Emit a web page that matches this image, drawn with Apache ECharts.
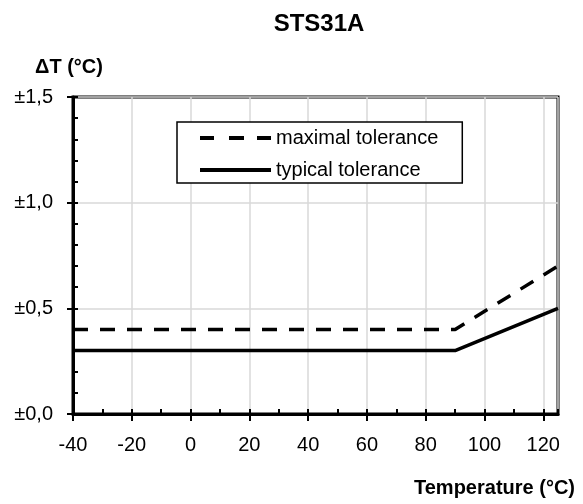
<!DOCTYPE html>
<html>
<head>
<meta charset="utf-8">
<script src="https://cdn.jsdelivr.net/npm/echarts@6/dist/echarts.min.js"></script>
<style>html,body{margin:0;padding:0;background:#fff;}#chart{width:583px;height:504px;}</style>
</head>
<body>
<div id="chart"></div>
<script>
const chartTitle = 'STS31A';
const yName = 'ΔT (°C)';
const xName = 'Temperature (°C)';
const temps = [-40, 90, 125];
const maximalTolerance = [0.4, 0.4, 0.7];
const typicalTolerance = [0.3, 0.3, 0.5];
const seriesNames = ['maximal tolerance', 'typical tolerance'];

const FONT = "'Liberation Sans', Arial, sans-serif";
const chart = echarts.init(document.getElementById('chart'), null, {renderer: 'canvas'});
const pairs = (xs, ys) => xs.map((x, i) => [x, ys[i]]);
const tickLine = {color: '#000', width: 2};
const dashedIcon = 'path://M0,0h14v4h-14zM29,0h15v4h-15zM57,0h14v4h-14z';
const solidIcon = 'path://M0,0h71v4h-71z';

chart.setOption({
  animation: false,
  backgroundColor: '#fff',
  textStyle: {fontFamily: FONT},
  title: [
    {text: chartTitle, left: 319, top: 12, textAlign: 'center', padding: 0,
     textStyle: {fontFamily: FONT, fontSize: 24, fontWeight: 'bold', color: '#000'}},
    {text: yName, left: 69, top: 57, textAlign: 'center', padding: 0,
     textStyle: {fontFamily: FONT, fontSize: 20, fontWeight: 'bold', color: '#000'}},
    {text: xName, right: 8, top: 478, padding: 0,
     textStyle: {fontFamily: FONT, fontSize: 20, fontWeight: 'bold', color: '#000'}}
  ],
  legend: {
    orient: 'vertical', left: 177, top: 122,
    itemWidth: 71, itemHeight: 4, itemGap: 8,
    padding: [4, 24, 1, 23],
    borderColor: '#000', borderWidth: 1.5, backgroundColor: '#fff',
    textStyle: {fontFamily: FONT, fontSize: 20, lineHeight: 24, color: '#000', padding: [0, 0, 0, 0]},
    data: [
      {name: seriesNames[0], icon: dashedIcon, itemStyle: {color: '#000'}},
      {name: seriesNames[1], icon: solidIcon, itemStyle: {color: '#000'}}
    ]
  },
  grid: {left: 73, right: 25, top: 97, bottom: 90, show: true, borderColor: '#000', borderWidth: 3, containLabel: false},
  xAxis: [
    {type: 'value', min: -40, max: 125, interval: 20, position: 'bottom',
     axisLine: {show: true, onZero: false, lineStyle: {color: '#000', width: 3}},
     axisTick: {show: true, length: 7, lineStyle: tickLine},
     axisLabel: {margin: 21, fontSize: 20, color: '#000', fontFamily: FONT, showMaxLabel: false,
                 formatter: v => (v % 20 === 0 ? String(v) : '')},
     splitLine: {show: true, lineStyle: {color: '#d9d9d9', width: 1.5}}},
    {type: 'value', min: -40, max: 125, interval: 10, position: 'bottom',
     axisLine: {show: false, onZero: false},
     axisTick: {show: true, inside: true, length: 5, lineStyle: tickLine},
     axisLabel: {show: false}, splitLine: {show: false}}
  ],
  yAxis: [
    {type: 'value', min: 0, max: 1.5, interval: 0.5, position: 'left',
     axisLine: {show: true, onZero: false, lineStyle: {color: '#000', width: 3}},
     axisTick: {show: true, length: 6, lineStyle: tickLine},
     axisLabel: {margin: 20, fontSize: 20, color: '#000', fontFamily: FONT,
                 formatter: v => '±' + v.toFixed(1).replace('.', ',')},
     splitLine: {show: true, lineStyle: {color: '#d9d9d9', width: 1.5}}},
    {type: 'value', min: 0, max: 1.5, interval: 0.1, position: 'left',
     axisLine: {show: false, onZero: false},
     axisTick: {show: true, inside: true, length: 5, lineStyle: tickLine},
     axisLabel: {show: false}, splitLine: {show: false}}
  ],
  series: [
    {name: seriesNames[0], type: 'line', xAxisIndex: 0, yAxisIndex: 0,
     data: pairs(temps, maximalTolerance), symbol: 'none', showSymbol: false,
     lineStyle: {color: '#000', width: 3.5, type: [15, 12]}, itemStyle: {color: '#000'}},
    {name: seriesNames[1], type: 'line', xAxisIndex: 0, yAxisIndex: 0,
     data: pairs(temps, typicalTolerance), symbol: 'none', showSymbol: false,
     lineStyle: {color: '#000', width: 3.5, type: 'solid'}, itemStyle: {color: '#000'}}
  ]
});
</script>
</body>
</html>
